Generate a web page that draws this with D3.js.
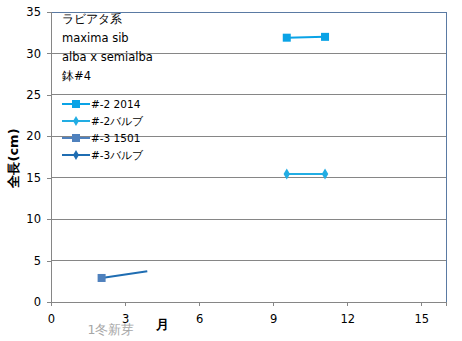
<!DOCTYPE html>
<html><head><meta charset="utf-8">
<script src="https://cdn.jsdelivr.net/npm/d3@7"></script>
<style>body{margin:0;background:#fff}svg{display:block}</style>
</head><body>
<script>
const seriesNames = ["#-2 2014", "#-2バルブ", "#-3 1501", "#-3バルブ"];
const s2_2014 = [{x: 9.55, y: 31.9}, {x: 11.1, y: 32.0}];
const s2_bulb = [{x: 9.55, y: 15.45}, {x: 11.1, y: 15.45}];
const s3_1501 = [{x: 2.05, y: 2.9}];
const s3_bulb = [{x: 2.05, y: 2.9}, {x: 3.9, y: 3.7}];
const xTicks = [0, 3, 6, 9, 12, 15];
const yTicks = [0, 5, 10, 15, 20, 25, 30, 35];
const notes = ["ラビアタ系", "maxima sib", "alba x semialba", "鉢#4"];

const W = 462, H = 341;
const svg = d3.select("body").append("svg").attr("width", W).attr("height", H);
const x = d3.scaleLinear().domain([0, 16]).range([51, 446]);
const y = d3.scaleLinear().domain([0, 35]).range([302, 12]);
const font = "'DejaVu Sans', sans-serif";

// gridlines
svg.append("g").selectAll("line").data(yTicks.filter(d => d > 0)).join("line")
  .attr("x1", x(0)).attr("x2", x(16)).attr("y1", d => y(d)).attr("y2", d => y(d))
  .attr("stroke", d => d === 35 ? "#5a7aa3" : "#868686").attr("stroke-width", 1)
  .attr("shape-rendering", "crispEdges");
// right border
svg.append("line").attr("x1", x(16)).attr("x2", x(16)).attr("y1", y(35)).attr("y2", y(0))
  .attr("stroke", "#5a7aa3").attr("shape-rendering", "crispEdges");

// axes
const yAxis = svg.append("g").attr("transform", `translate(${x(0)},0)`)
  .call(d3.axisLeft(y).tickValues(yTicks).tickSize(4).tickPadding(6));
const xAxis = svg.append("g").attr("transform", `translate(0,${y(0)})`)
  .call(d3.axisBottom(x).tickValues(xTicks).tickSize(4).tickPadding(9));
[yAxis, xAxis].forEach(a => {
  a.select(".domain").attr("stroke", "#868686").attr("shape-rendering", "crispEdges");
  a.selectAll(".tick line").attr("stroke", "#868686").attr("shape-rendering", "crispEdges");
  a.selectAll("text").attr("font-family", font).attr("font-size", 11.5).attr("fill", "#000");
});

// series
const colors = ["#0aa3e6", "#22ade3", "#4f81bd", "#1f6db2"];
const line = d3.line().x(d => x(d.x)).y(d => y(d.y));
function drawLine(data, c) {
  svg.append("path").datum(data).attr("d", line).attr("fill", "none")
    .attr("stroke", c).attr("stroke-width", 2);
}
drawLine(s3_bulb, colors[3]);
drawLine(s2_2014, colors[0]);
drawLine(s2_bulb, colors[1]);
function squares(data, c, s) {
  svg.append("g").selectAll("rect").data(data).join("rect")
    .attr("x", d => x(d.x) - s / 2).attr("y", d => y(d.y) - s / 2)
    .attr("width", s).attr("height", s).attr("fill", c);
}
function diamonds(data, c, s) {
  svg.append("g").selectAll("path").data(data).join("path")
    .attr("d", d3.symbol(d3.symbolDiamond, s * s))
    .attr("transform", d => `translate(${x(d.x)},${y(d.y)})`).attr("fill", c);
}
squares(s2_2014, colors[0], 8);
diamonds(s2_bulb, colors[1], 6);
squares(s3_1501, colors[2], 8);

// legend
const lg = svg.append("g");
seriesNames.forEach((n, i) => {
  const ly = [104, 121, 138, 155][i];
  lg.append("line").attr("x1", 62).attr("x2", 90).attr("y1", ly).attr("y2", ly)
    .attr("stroke", colors[i]).attr("stroke-width", 2);
  if (i === 0 || i === 2) {
    lg.append("rect").attr("x", 72).attr("y", ly - 4).attr("width", 8).attr("height", 8).attr("fill", colors[i]);
  } else {
    lg.append("path").attr("d", d3.symbol(d3.symbolDiamond, 30)).attr("transform", `translate(76,${ly})`).attr("fill", colors[i]);
  }
  lg.append("text").attr("x", 91).attr("y", ly + 4).text(n)
    .attr("font-family", font).attr("font-size", 10.5).attr("fill", "#000");
});

// notes
notes.forEach((t, i) => {
  svg.append("text").attr("x", 62).attr("y", 23 + i * 19).text(t)
    .attr("font-family", font).attr("font-size", 11.5).attr("fill", "#000");
});

// axis titles
svg.append("text").attr("transform", "translate(18,158) rotate(-90)").attr("text-anchor", "middle")
  .text("全長(cm)").attr("font-family", font).attr("font-size", 13).attr("font-weight", "bold");
svg.append("text").attr("x", 162).attr("y", 329).attr("text-anchor", "middle")
  .text("月").attr("font-family", font).attr("font-size", 13).attr("font-weight", "bold");
svg.append("text").attr("x", 111).attr("y", 334).attr("text-anchor", "middle")
  .text("1冬新芽").attr("font-family", font).attr("font-size", 12.5).attr("fill", "#a6a6a6");
</script>
</body></html>
